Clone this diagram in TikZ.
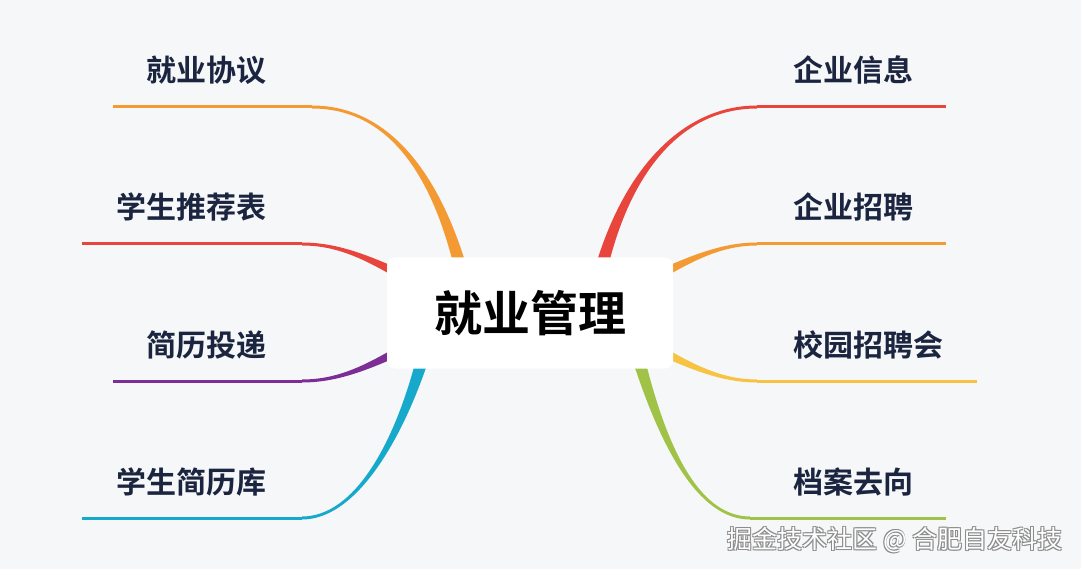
\documentclass[tikz,border=0pt]{standalone}
\usepackage{fontspec}
\usetikzlibrary{calc}
\newfontfamily\cjkbold{Noto Sans CJK SC Bold}
\newfontfamily\cjkreg{Noto Sans CJK SC}
\definecolor{bgc}{HTML}{F6F7F9}
\definecolor{txt}{HTML}{1B2540}
\definecolor{cOrange}{HTML}{F39A33}
\definecolor{cRed}{HTML}{E8453C}
\definecolor{cPurple}{HTML}{7D2D96}
\definecolor{cCyan}{HTML}{17A9CB}
\definecolor{cYellow}{HTML}{F6C342}
\definecolor{cGreen}{HTML}{A0C347}
\newcommand\mybranch[6]{%
  \fill[#1] ($(#2)+(#6)$) .. controls ($(#3)+0.5*(#6)$) and ($(#4)+(0,-1.5)$) .. ($(#5)+(0,-1.5)$)
    -- ($(#5)+(0,1.5)$) .. controls ($(#4)+(0,1.5)$) and ($(#3)-0.5*(#6)$) .. ($(#2)-(#6)$) -- cycle;}
\tikzset{
  lbl/.style={font=\cjkbold\fontsize{30}{32}\selectfont, text=txt, inner sep=0pt},
  uline/.style={line width=3pt},
  rootbox/.style={fill=white, rounded corners=8pt, minimum width=286pt, minimum height=111pt, inner sep=0pt,
     font=\cjkbold\fontsize{48}{50}\selectfont, text=black},
  wm/.style={font=\cjkreg\fontsize{25}{27}\selectfont, inner sep=0pt}
}
\begin{document}
\begin{tikzpicture}[x=1pt,y=-1pt]
\useasboundingbox[fill=bgc] (0,0) rectangle (1081,569);
% end points of the underlines
\coordinate (eLO) at (312,107); \coordinate (fLO) at (113,107);
\coordinate (eLR) at (302,244); \coordinate (fLR) at (82,244);
\coordinate (eLP) at (302,381); \coordinate (fLP) at (113,381);
\coordinate (eLC) at (302,518); \coordinate (fLC) at (82,518);
\coordinate (eRR) at (757,107); \coordinate (fRR) at (946,107);
\coordinate (eRO) at (757,244); \coordinate (fRO) at (946,244);
\coordinate (eRY) at (757,381); \coordinate (fRY) at (977,381);
\coordinate (eRG) at (750,518); \coordinate (fRG) at (946,518);
% start points at the root box
\coordinate (sLO) at (459,262); \coordinate (sLR) at (389,269);
\coordinate (sLP) at (389,356); \coordinate (sLC) at (421,364);
\coordinate (sRR) at (603,262); \coordinate (sRO) at (671,269);
\coordinate (sRY) at (671,356); \coordinate (sRG) at (640,364);
% branches
\mybranch{cOrange}{sLO}{430,160}{380,107}{eLO}{5.8,-1.6}
\mybranch{cRed}{sLR}{355,252}{330,244}{eLR}{1.8,-3.6}
\mybranch{cPurple}{sLP}{355,373}{330,381}{eLP}{-1.8,-3.6}
\mybranch{cCyan}{sLC}{397,443}{355,518}{eLC}{-5.7,-1.7}
\mybranch{cRed}{sRR}{632,160}{689,107}{eRR}{-5.8,-1.6}
\mybranch{cOrange}{sRO}{705,252}{730,244}{eRO}{-1.8,-3.6}
\mybranch{cYellow}{sRY}{705,373}{730,381}{eRY}{1.8,-3.6}
\mybranch{cGreen}{sRG}{663,443}{697,518}{eRG}{5.7,-1.7}
\draw[uline,cOrange] (fLO) -- (eLO);
\draw[uline,cRed] (fLR) -- (eLR);
\draw[uline,cPurple] (fLP) -- (eLP);
\draw[uline,cCyan] (fLC) -- (eLC);
\draw[uline,cRed] (eRR) -- (fRR);
\draw[uline,cOrange] (eRO) -- (fRO);
\draw[uline,cYellow] (eRY) -- (fRY);
\draw[uline,cGreen] (eRG) -- (fRG);
% root
\node[rootbox] (root) at (530,313) {就业管理};
% labels
\node[lbl] (tLO) at (206,70) {就业协议};
\node[lbl] (tLR) at (191,207) {学生推荐表};
\node[lbl] (tLP) at (206,345) {简历投递};
\node[lbl] (tLC) at (191,482) {学生简历库};
\node[lbl] (tRR) at (853,70) {企业信息};
\node[lbl] (tRO) at (853,207) {企业招聘};
\node[lbl] (tRY) at (868,345) {校园招聘会};
\node[lbl] (tRG) at (853,482) {档案去向};
% watermark
\foreach \dx/\dy in {0.8/0.8,-0.6/0.6,0.6/-0.6,-0.6/-0.6}
  \node[wm,text=black!45] at (895+\dx,540+\dy) {掘金技术社区 @ 合肥自友科技};
\node[wm,text=white] (wmark) at (895,540) {掘金技术社区 @ 合肥自友科技};
\end{tikzpicture}
\end{document}
